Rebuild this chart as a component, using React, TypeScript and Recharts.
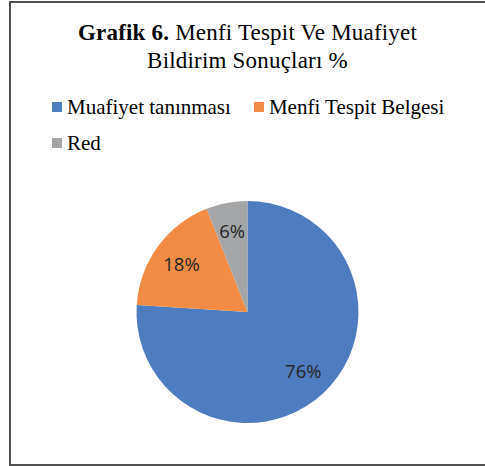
import React from 'react';
import { PieChart, Pie, Cell, Legend } from 'recharts';

const categories = ['Muafiyet tanınması', 'Menfi Tespit Belgesi', 'Red'];
const shares = [76, 18, 6];
const sliceColors = ['#4E7DBF', '#F28C45', '#A4A5A6'];

const pieData = categories.map((name, i) => ({ name, value: shares[i] }));

const RADIAN = Math.PI / 180;
const LABEL_FONT = 18.5;

const renderLabel = (props: any) => {
  const { cx, cy, midAngle, outerRadius, value } = props;
  const r = outerRadius * 0.735;
  const x = cx + r * Math.cos(-midAngle * RADIAN);
  const y = cy + r * Math.sin(-midAngle * RADIAN);
  return (
    <text
      x={x}
      y={y + LABEL_FONT * 0.357}
      textAnchor="middle"
      fill="#262626"
      fontFamily="'Open Sans', sans-serif"
      fontSize={LABEL_FONT}
    >
      {`${value}%`}
    </text>
  );
};

const renderLegend = (props: any) => {
  // keep the series order instead of recharts' alphabetical sort
  const items = [...(props.payload || [])].sort(
    (a: any, b: any) => categories.indexOf(a.value) - categories.indexOf(b.value)
  );
  return (
    <div style={{ display: 'flex', flexWrap: 'wrap', width: 420 }}>
      {items.map((entry: any, index: number) => (
        <div
          key={`item-${index}`}
          style={{ display: 'flex', alignItems: 'center', height: 36, marginRight: 23 }}
        >
          <span style={{ display: 'inline-block', width: 10, height: 10, background: entry.color, marginRight: 5 }} />
          <span
            style={{
              fontFamily: "'Liberation Serif', 'Times New Roman', serif",
              fontSize: 21,
              lineHeight: '36px',
              color: '#000',
              whiteSpace: 'nowrap',
            }}
          >
            {entry.value}
          </span>
        </div>
      ))}
    </div>
  );
};

export default function App() {
  return (
    <div style={{ position: 'absolute', left: 0, top: 0, width: 485, height: 466, overflow: 'hidden', background: '#fff' }}>
      <div
        style={{
          position: 'absolute',
          left: 9,
          top: 1,
          width: 520,
          height: 465,
          boxSizing: 'border-box',
          border: '2px solid #505050',
        }}
      />
      <svg width={485} height={90} style={{ position: 'absolute', left: 0, top: 0 }}>
        <text
          x={247.5}
          y={40}
          textAnchor="middle"
          fontFamily="'Liberation Serif', 'Times New Roman', serif"
          fontSize={23}
          letterSpacing={0.2}
          fill="#000"
        >
          <tspan fontWeight="bold">Grafik 6.</tspan> Menfi Tespit Ve Muafiyet
        </text>
        <text
          x={247.5}
          y={68}
          textAnchor="middle"
          fontFamily="'Liberation Serif', 'Times New Roman', serif"
          fontSize={23}
          letterSpacing={0.2}
          fill="#000"
        >
          Bildirim Sonuçları %
        </text>
      </svg>
      <div style={{ position: 'absolute', left: 0, top: 0 }}>
        <PieChart width={485} height={466} margin={{ top: 0, right: 0, bottom: 0, left: 0 }}>
          <Legend
            content={renderLegend}
            wrapperStyle={{ top: 89, left: 52, width: 420, bottom: 'auto' }}
          />
          <Pie
            data={pieData}
            dataKey="value"
            nameKey="name"
            cx={247.5}
            cy={312}
            outerRadius={111}
            startAngle={90}
            endAngle={-270}
            stroke="none"
            labelLine={false}
            label={renderLabel}
            isAnimationActive={false}
          >
            {pieData.map((entry, index) => (
              <Cell key={`cell-${index}`} fill={sliceColors[index]} />
            ))}
          </Pie>
        </PieChart>
      </div>
    </div>
  );
}
